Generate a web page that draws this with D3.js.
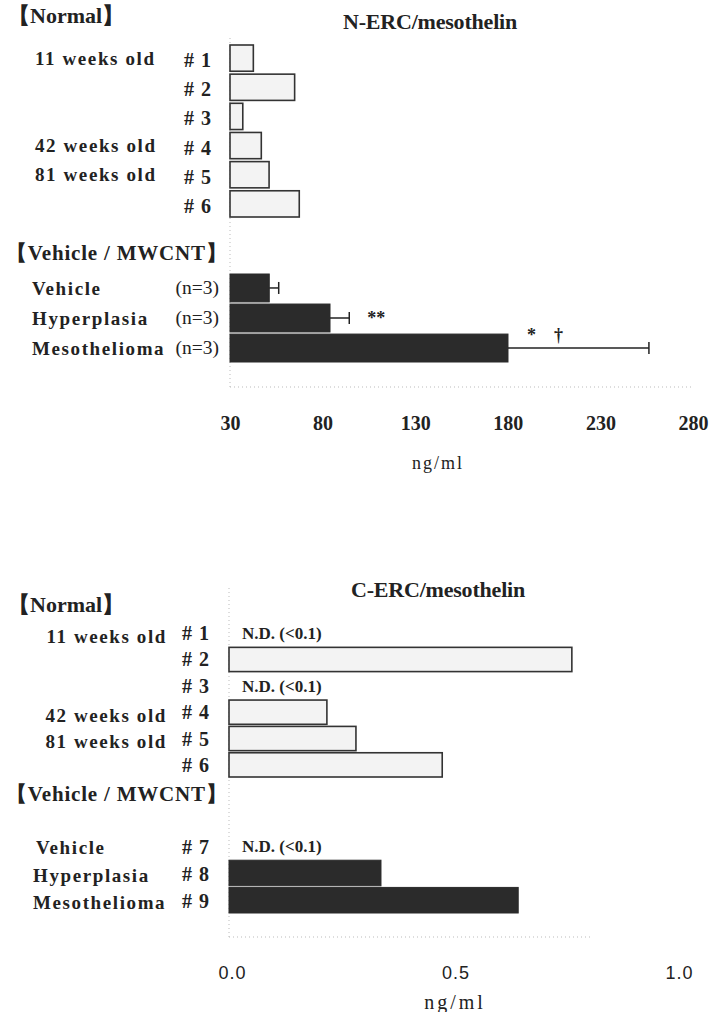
<!DOCTYPE html>
<meta charset="utf-8">
<head>
  <title>N-ERC / C-ERC mesothelin</title>
</head>
<style>
  body { margin: 0; background: #fff; }
  svg text { fill: #222; }
  .serif { font-family: "Liberation Serif", "Times New Roman", serif; }
  .lbl { font: bold 19px "Liberation Serif", serif; letter-spacing: 1.6px; }
  .nid, .gid { font-size: 20px; letter-spacing: 1px; }
  .hdr { font: bold 22px "Liberation Serif", serif; }
  .title { font: bold 22px "Liberation Serif", serif; letter-spacing: -0.2px; }
  .nd { font: bold 17px "Liberation Serif", serif; }
  .frame { stroke: #bbb; stroke-width: 1; stroke-dasharray: 1,3; fill: none; }
  .light { fill: #f3f3f3; stroke: #333; stroke-width: 1.6px; }
  .dark { fill: #2b2b2b; stroke: #2b2b2b; }
  .err { stroke: #222; stroke-width: 1.5px; }
</style>
<body>
<script src="https://cdn.jsdelivr.net/npm/d3@7"></script>
<script>
// ---- data ----
var normalIds = ["# 1", "# 2", "# 3", "# 4", "# 5", "# 6"];
var ageLabels = ["11 weeks old", "", "", "42 weeks old", "81 weeks old", ""];
var groupNames = ["Vehicle", "Hyperplasia", "Mesothelioma"];
var groupN = ["(n=3)", "(n=3)", "(n=3)"];
var groupIds = ["# 7", "# 8", "# 9"];

// N-ERC/mesothelin (ng/ml)
var nercNormal = [42.6, 64.9, 36.9, 46.9, 51.1, 67.4];
var nercGroup = [51.2, 84.0, 180.1];
var nercErr = [5.1, 10.4, 76.1];
var nercMarks = ["", "**", "*    \u2020"];
var nercTicks = [30, 80, 130, 180, 230, 280];

// C-ERC/mesothelin (ng/ml), null = N.D.
var cercNormal = [null, 0.767, null, 0.219, 0.284, 0.477];
var cercGroup = [null, 0.34, 0.647];
var cercTicks = [0.0, 0.5, 1.0];

var W = 710, H = 1012;
var svg = d3.select("body").append("svg")
    .attr("width", W)
    .attr("height", H);

// ================= top panel =================
var x1 = d3.scaleLinear().domain([30, 280]).range([230, 693]);
var yN1 = d3.scaleBand().domain(normalIds).range([45, 217]).paddingInner(0.1);
var yG1 = d3.scaleBand().domain(groupNames).range([274, 362]).paddingInner(0.07);

var topG = svg.append("g");

// faint frame
topG.append("line").attr("class", "frame")
    .attr("x1", x1(30)).attr("x2", x1(30)).attr("y1", 38).attr("y2", 387);
topG.append("line").attr("class", "frame")
    .attr("x1", x1(30)).attr("x2", x1(280)).attr("y1", 387).attr("y2", 387);

topG.append("text").attr("class", "title")
    .attr("x", 430).attr("y", 29).attr("text-anchor", "middle")
    .text("N-ERC/mesothelin");

topG.append("text").attr("class", "hdr")
    .attr("x", 8).attr("y", 23).text("\u3010Normal\u3011");

topG.selectAll(".age").data(ageLabels).enter().append("text")
    .attr("class", "lbl age")
    .attr("x", 35)
    .attr("y", function(d, i) { return yN1(normalIds[i]) + yN1.bandwidth() / 2; })
    .attr("dy", "0.35em")
    .text(function(d) { return d; });

topG.selectAll(".nid").data(normalIds).enter().append("text")
    .attr("class", "lbl nid")
    .attr("x", 212).attr("text-anchor", "end")
    .attr("y", function(d) { return yN1(d) + yN1.bandwidth() / 2 + 2; })
    .attr("dy", "0.35em")
    .text(function(d) { return d; });

topG.selectAll(".nbar").data(nercNormal).enter().append("rect")
    .attr("class", "light nbar")
    .attr("x", x1(30))
    .attr("y", function(d, i) { return yN1(normalIds[i]); })
    .attr("width", function(d) { return x1(d) - x1(30); })
    .attr("height", yN1.bandwidth());

topG.append("text").attr("class", "hdr")
    .attr("x", 6).attr("y", 260).text("\u3010Vehicle / MWCNT\u3011")
    .style("font-size", "21px")
    .style("letter-spacing", "0.8px");

topG.selectAll(".gname").data(groupNames).enter().append("text")
    .attr("class", "lbl gname")
    .attr("x", 32)
    .attr("y", function(d) { return yG1(d) + yG1.bandwidth() / 2; })
    .attr("dy", "0.35em")
    .text(function(d) { return d; });

topG.selectAll(".gn").data(groupN).enter().append("text")
    .attr("class", "serif gn")
    .style("font-size", "19.5px")
    .attr("x", 219).attr("text-anchor", "end")
    .attr("y", function(d, i) { return yG1(groupNames[i]) + yG1.bandwidth() / 2 - 1; })
    .attr("dy", "0.35em")
    .text(function(d) { return d; });

topG.selectAll(".gbar").data(nercGroup).enter().append("rect")
    .attr("class", "dark gbar")
    .attr("x", x1(30))
    .attr("y", function(d, i) { return yG1(groupNames[i]); })
    .attr("width", function(d) { return x1(d) - x1(30); })
    .attr("height", yG1.bandwidth());

// error bars
var eb = topG.selectAll(".eb").data(nercGroup).enter().append("g").attr("class", "eb");
eb.append("line").attr("class", "err")
    .attr("x1", function(d) { return x1(d); })
    .attr("x2", function(d, i) { return x1(d + nercErr[i]); })
    .attr("y1", function(d, i) { return yG1(groupNames[i]) + yG1.bandwidth() / 2; })
    .attr("y2", function(d, i) { return yG1(groupNames[i]) + yG1.bandwidth() / 2; });
eb.append("line").attr("class", "err")
    .attr("x1", function(d, i) { return x1(d + nercErr[i]); })
    .attr("x2", function(d, i) { return x1(d + nercErr[i]); })
    .attr("y1", function(d, i) { return yG1(groupNames[i]) + yG1.bandwidth() / 2 - 6; })
    .attr("y2", function(d, i) { return yG1(groupNames[i]) + yG1.bandwidth() / 2 + 6; });

// significance marks
topG.selectAll(".sig").data(nercMarks).enter().append("text")
    .attr("class", "serif sig")
    .style("font-size", "18px").style("font-weight", "bold")
    .style("white-space", "pre")
    .attr("x", function(d, i) { return x1(nercGroup[i] + nercErr[i]) + (i === 2 ? -122 : 18); })
    .attr("y", function(d, i) { return yG1(groupNames[i]) + (i === 2 ? 7 : 20); })
    .text(function(d) { return d; });

// axis
var ax1 = topG.append("g")
    .attr("transform", "translate(0,387)")
    .call(d3.axisBottom(x1).tickValues(nercTicks).tickSize(0).tickPadding(29));
ax1.select(".domain").remove();
ax1.selectAll("text")
    .attr("fill", "#222")
    .style("font", "bold 20px 'Liberation Serif', serif");

topG.append("text").attr("class", "serif")
    .style("font-size", "18px").style("letter-spacing", "2px")
    .attr("x", 438).attr("y", 469).attr("text-anchor", "middle")
    .text("ng/ml");

// ================= bottom panel =================
var x2 = d3.scaleLinear().domain([0, 1]).range([229, 676]);
var yN2 = d3.scaleBand().domain(normalIds).range([621, 777]).paddingInner(0.08);
var yG2 = d3.scaleBand().domain(groupIds).range([833, 913]).paddingInner(0.06);

var bot = svg.append("g");

bot.append("line").attr("class", "frame")
    .attr("x1", x2(0)).attr("x2", x2(0)).attr("y1", 588).attr("y2", 937);
bot.append("line").attr("class", "frame")
    .attr("x1", x2(0)).attr("x2", 590).attr("y1", 937).attr("y2", 937);

bot.append("text").attr("class", "title")
    .attr("x", 438).attr("y", 597).attr("text-anchor", "middle")
    .text("C-ERC/mesothelin");

bot.append("text").attr("class", "hdr")
    .attr("x", 8).attr("y", 612).text("\u3010Normal\u3011");

bot.selectAll(".age").data(ageLabels).enter().append("text")
    .attr("class", "lbl age")
    .attr("x", 167).attr("text-anchor", "end")
    .attr("y", function(d, i) { return yN2(normalIds[i]) + yN2.bandwidth() / 2 + 3; })
    .attr("dy", "0.35em")
    .text(function(d) { return d; });

bot.selectAll(".nid").data(normalIds).enter().append("text")
    .attr("class", "lbl nid")
    .attr("x", 210).attr("text-anchor", "end")
    .attr("y", function(d) { return yN2(d) + yN2.bandwidth() / 2; })
    .attr("dy", "0.35em")
    .text(function(d) { return d; });

function drawBars(g, vals, ids, y, cls) {
  vals.forEach(function(d, i) {
    if (d === null) {
      g.append("text").attr("class", "nd")
          .attr("x", x2(0) + 13)
          .attr("y", y(ids[i]) + y.bandwidth() / 2)
          .attr("dy", "0.35em")
          .text("N.D. (<0.1)");
    } else {
      g.append("rect").attr("class", cls)
          .attr("x", x2(0))
          .attr("y", y(ids[i]))
          .attr("width", x2(d) - x2(0))
          .attr("height", y.bandwidth());
    }
  });
}
drawBars(bot, cercNormal, normalIds, yN2, "light");

bot.append("text").attr("class", "hdr")
    .attr("x", 6).attr("y", 801).text("\u3010Vehicle / MWCNT\u3011")
    .style("font-size", "21px")
    .style("letter-spacing", "0.8px");

bot.selectAll(".gname").data(groupNames).enter().append("text")
    .attr("class", "lbl gname")
    .attr("x", function(d, i) { return i === 0 ? 36 : 33; })
    .attr("y", function(d, i) { return yG2(groupIds[i]) + yG2.bandwidth() / 2 + 2; })
    .attr("dy", "0.35em")
    .text(function(d) { return d; });

bot.selectAll(".gid").data(groupIds).enter().append("text")
    .attr("class", "lbl gid")
    .attr("x", 210).attr("text-anchor", "end")
    .attr("y", function(d) { return yG2(d) + yG2.bandwidth() / 2 + 1; })
    .attr("dy", "0.35em")
    .text(function(d) { return d; });

drawBars(bot, cercGroup, groupIds, yG2, "dark");

var ax2 = bot.append("g")
    .attr("transform", "translate(3,937)")
    .call(d3.axisBottom(x2).tickValues(cercTicks).tickSize(0).tickPadding(29)
      .tickFormat(d3.format(".1f")));
ax2.select(".domain").remove();
ax2.selectAll("text")
    .attr("fill", "#222")
    .style("font", "18px 'Liberation Sans', Arial, sans-serif")
    .style("letter-spacing", "1px");

bot.append("text").attr("class", "serif")
    .style("font-size", "20px").style("letter-spacing", "3px")
    .attr("x", 455).attr("y", 1009).attr("text-anchor", "middle")
    .text("ng/ml");
</script>
</body>
